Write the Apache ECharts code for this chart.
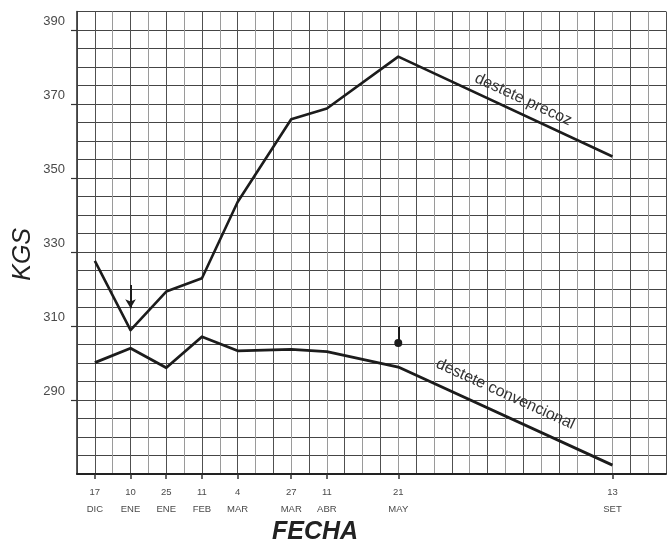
<!DOCTYPE html>
<html>
<head>
<meta charset="utf-8">
<script src="https://cdn.jsdelivr.net/npm/echarts@6/dist/echarts.min.js"></script>
<style>
html,body{margin:0;padding:0;background:#fff;}
#c{width:669px;height:543px;}
</style>
</head>
<body>
<div id="c"></div>
<script>
// Grid columns of the printed chart; blank columns are the graph-paper squares between dates
const fechas = ['', '17\nDIC', '', '10\nENE', '', '25\nENE', '', '11\nFEB', '', '4\nMAR', '', '',
  '27\nMAR', '', '11\nABR', '', '', '', '21\nMAY', '', '', '', '', '', '', '', '', '', '', '',
  '13\nSET', '', '', ''];
// Values at each dated column, in order
const destetePrecoz = [327.6, 308.9, 319.3, 322.9, 343.5, 365.9, 368.8, 382.8, 355.8];
const desteteConvencional = [300.1, 304.0, 298.7, 307.1, 303.3, 303.7, 303.1, 298.9, 272.4];
const yTickLabels = [290, 310, 330, 350, 370, 390];
// Arrows: [date, from value, to value]
const flechaDestete = ['10\nENE', 321.1, 314.8];
const marcaDestete = ['21\nMAY', 309.7, 305.4];
// Line annotations: [column index, value, text]
const etiquetaPrecoz = [25.3, 371.2, 'destete precoz'];
const etiquetaConv = [23.9, 291.6, 'destete convencional'];

function expand(vals) {
  let k = 0;
  return fechas.map(f => f === '' ? null : vals[k++]);
}

const chart = echarts.init(document.getElementById('c'));
const lineColor = '#1c1c1c';
chart.setOption({
  backgroundColor: '#ffffff',
  animation: false,
  grid: { left: 77, right: -1, top: 11.5, bottom: 69, containLabel: false },
  xAxis: {
    type: 'category',
    data: fechas,
    boundaryGap: false,
    axisLine: { lineStyle: { color: '#222', width: 2 } },
    axisTick: { show: true, interval: (i, v) => v !== '', length: 5, lineStyle: { color: '#333', width: 1.5 } },
    axisLabel: { interval: 0, color: '#4a4a4a', fontSize: 9.5, lineHeight: 17, margin: 10, fontFamily: 'Liberation Sans' },
    splitLine: { show: true, interval: 0, lineStyle: { color: ['#9a9a9a', '#505050'], width: 1 } }
  },
  yAxis: [
    {
      type: 'value',
      min: 270, max: 395, interval: 5,
      axisLine: { show: true, lineStyle: { color: '#222', width: 1.5 } },
      axisTick: { show: true, customValues: yTickLabels, length: 6, lineStyle: { color: '#333', width: 1.2 } },
      axisLabel: { customValues: yTickLabels, color: '#4a4a4a', fontSize: 13, margin: 12,
                   verticalAlign: 'bottom', padding: [0, 0, 2, 0], fontFamily: 'Liberation Sans' },
      splitLine: { show: false }
    },
    {
      type: 'value',
      min: 270, max: 395, interval: 5,
      axisLine: { show: false }, axisTick: { show: false }, axisLabel: { show: false },
      splitLine: { show: true, lineStyle: { color: '#454545', width: 1.2 } }
    }
  ],
  series: [
    {
      name: 'destete precoz', type: 'line', data: expand(destetePrecoz), connectNulls: true,
      symbol: 'none', lineStyle: { color: lineColor, width: 2.6, join: 'round' },
      markLine: {
        silent: true, animation: false, label: { show: false },
        lineStyle: { color: lineColor, width: 2, type: 'solid' },
        data: [[
          { coord: [flechaDestete[0], flechaDestete[1]], symbol: 'none' },
          { coord: [flechaDestete[0], flechaDestete[2]], symbol: 'arrow', symbolSize: [8, 9] }
        ]]
      },
      markPoint: {
        silent: true, symbol: 'circle', symbolSize: 0,
        label: { show: true, position: 'inside', color: '#333', fontSize: 16, fontFamily: 'Liberation Sans', rotate: -24.8 },
        data: [{ coord: [etiquetaPrecoz[0], etiquetaPrecoz[1]], value: etiquetaPrecoz[2],
                 label: { formatter: etiquetaPrecoz[2] } }]
      }
    },
    {
      name: 'destete convencional', type: 'line', data: expand(desteteConvencional), connectNulls: true,
      symbol: 'none', lineStyle: { color: lineColor, width: 2.8, join: 'round' },
      markLine: {
        silent: true, animation: false, label: { show: false },
        lineStyle: { color: lineColor, width: 2, type: 'solid' },
        data: [[
          { coord: [marcaDestete[0], marcaDestete[1]], symbol: 'none' },
          { coord: [marcaDestete[0], marcaDestete[2]], symbol: 'circle', symbolSize: 8 }
        ]]
      },
      markPoint: {
        silent: true, symbol: 'circle', symbolSize: 0,
        label: { show: true, position: 'inside', color: '#333', fontSize: 16, fontFamily: 'Liberation Sans', rotate: -24.4 },
        data: [{ coord: [etiquetaConv[0], etiquetaConv[1]], value: etiquetaConv[2],
                 label: { formatter: etiquetaConv[2] } }]
      }
    }
  ],
  graphic: [
    { type: 'text', left: 11, top: 228, rotation: Math.PI / 2,
      style: { text: 'KGS', font: 'italic 25px "Liberation Sans"', fill: '#222' } },
    { type: 'text', left: 272, top: 520,
      style: { text: 'FECHA', font: 'italic bold 25px "Liberation Sans"', fill: '#222' } }
  ]
});
</script>
</body>
</html>
